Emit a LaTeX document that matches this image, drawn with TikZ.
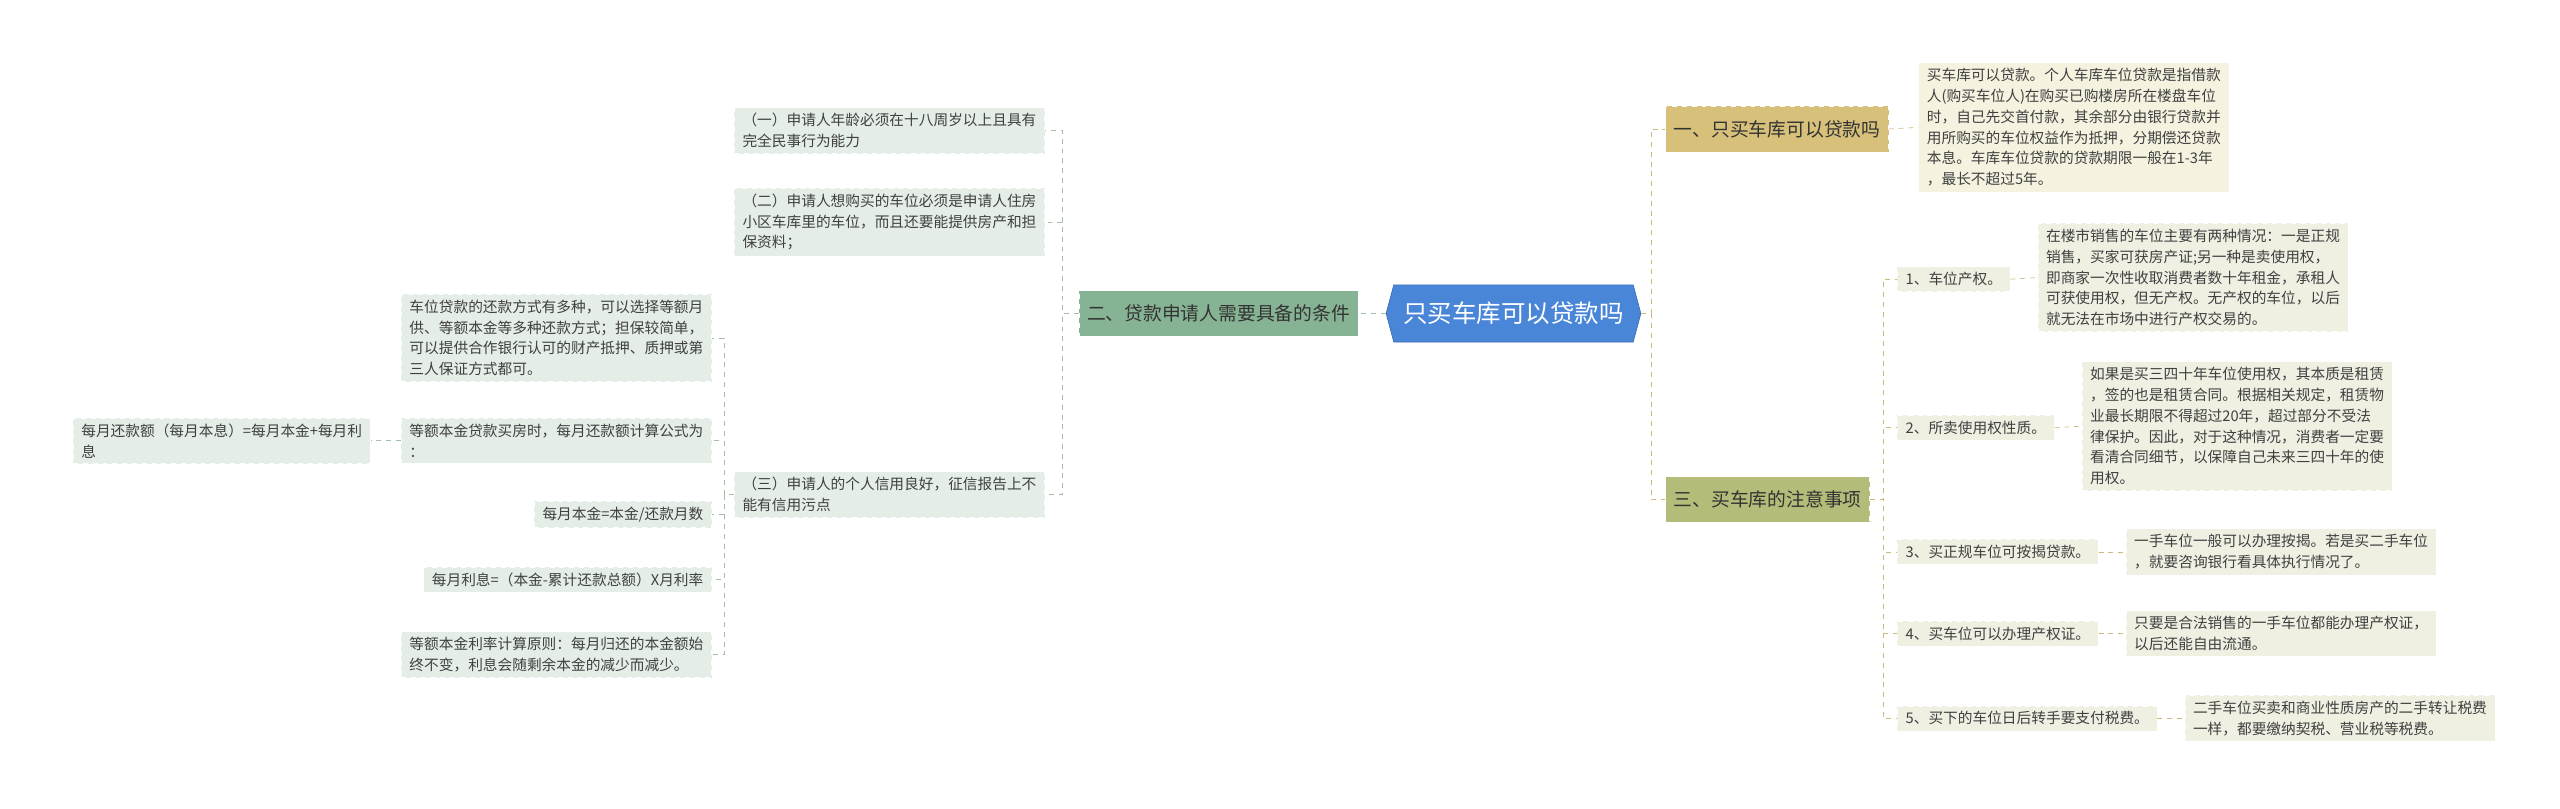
\documentclass[tikz,border=0pt]{standalone}
\usepackage{fontspec}
\setmainfont{Noto Sans CJK SC}
\usetikzlibrary{positioning,shapes.symbols}
\definecolor{rootblue}{HTML}{4A86D8}
\definecolor{gbranch}{HTML}{86B393}
\definecolor{gleaf}{HTML}{E4EDE6}
\definecolor{gline}{HTML}{A3BDA8}
\definecolor{ybranch}{HTML}{D6C07A}
\definecolor{obranch}{HTML}{B5BB78}
\definecolor{cleaf}{HTML}{F5F2E0}
\definecolor{rleaf}{HTML}{EFEFE2}
\definecolor{rline}{HTML}{C9B97A}
\tikzstyle{root}=[shape=signal,signal to=west and east,signal pointer angle=150,
fill=rootblue,draw=rootblue!80!black,text=white,font=\fontsize{15}{18}\selectfont,
minimum width=156pt,minimum height=35pt,inner sep=0pt]
\tikzstyle{branch}=[rectangle,draw=white,dashed,text=black!80,font=\fontsize{11.5}{14}\selectfont,
minimum height=28pt,inner xsep=5pt]
\tikzstyle{leaf}=[rectangle,fill=gleaf,draw=white,dashed,text=black!75,align=left,
font=\fontsize{9}{12.7}\selectfont,inner xsep=5pt,inner ysep=3.5pt]
\tikzstyle{rleafbox}=[leaf,fill=rleaf]
\tikzstyle{gconn}=[draw=gline,dashed,thin]
\tikzstyle{rconn}=[draw=rline,dashed,thin]
\begin{document}
\begin{tikzpicture}[x=1pt,y=-1pt]
            \useasboundingbox (0,0) rectangle (1568,495);

            % centre
            \node[root] (root) at (927,192) {只买车库可以贷款吗};

            % LEFT PART
            \node[branch,fill=gbranch,anchor=east] (L) at (832,192) {二、贷款申请人需要具备的条件};
            \node[leaf,anchor=east] (L1) at (640,80) {（一）申请人年龄必须在十八周岁以上且具有\\完全民事行为能力};
            \node[leaf,anchor=east] (L2) at (640,136) {（二）申请人想购买的车位必须是申请人住房\\小区车库里的车位，而且还要能提供房产和担\\保资料；};
            \node[leaf,anchor=east] (L3) at (640,303) {（三）申请人的个人信用良好，征信报告上不\\能有信用污点};

            \node[leaf,anchor=east] (D1) at (436,207) {车位贷款的还款方式有多种，可以选择等额月\\供、等额本金等多种还款方式；担保较简单，\\可以提供合作银行认可的财产抵押、质押或第\\三人保证方式都可。};
            \node[leaf,anchor=east] (D2) at (436,270) {等额本金贷款买房时，每月还款额计算公式为\\：};
            \node[leaf,anchor=east] (E1) at (227,270) {每月还款额（每月本息）=每月本金+每月利\\息};
            \node[leaf,anchor=east] (D3) at (436,315) {每月本金=本金/还款月数};
            \node[leaf,anchor=east] (D4) at (436,355) {每月利息=（本金-累计还款总额）X月利率};
            \node[leaf,anchor=east] (D5) at (436,401) {等额本金利率计算原则：每月归还的本金额始\\终不变，利息会随剩余本金的减少而减少。};

            \draw[gconn] (root.west) -- (L.east);
            \foreach \c in {L1,L2,L3}
                \draw[gconn] (L.west) -- ++(-10,0) |- (\c.east);
            \foreach \c in {D1,D2,D3,D4,D5}
                \draw[gconn] (L3.west) -- ++(-6,0) |- (\c.east);
            \draw[gconn] (D2.west) -- (E1.east);

            % RIGHT PART
            \node[branch,fill=ybranch,anchor=west] (R1) at (1020,79) {一、只买车库可以贷款吗};
            \node[leaf,fill=cleaf,anchor=west] (R1a) at (1175,78) {买车库可以贷款。个人车库车位贷款是指借款\\人(购买车位人)在购买已购楼房所在楼盘车位\\时，自己先交首付款，其余部分由银行贷款并\\用所购买的车位权益作为抵押，分期偿还贷款\\本息。车库车位贷款的贷款期限一般在1-3年\\，最长不超过5年。};
            \node[branch,fill=obranch,anchor=west] (R3) at (1020,306) {三、买车库的注意事项};

            \node[rleafbox,anchor=west] (B1) at (1162,171) {1、车位产权。};
            \node[rleafbox,anchor=west] (B1a) at (1248,170) {在楼市销售的车位主要有两种情况：一是正规\\销售，买家可获房产证;另一种是卖使用权，\\即商家一次性收取消费者数十年租金，承租人\\可获使用权，但无产权。无产权的车位，以后\\就无法在市场中进行产权交易的。};
            \node[rleafbox,anchor=west] (B2) at (1162,262) {2、所卖使用权性质。};
            \node[rleafbox,anchor=west] (B2a) at (1275,261) {如果是买三四十年车位使用权，其本质是租赁\\，签的也是租赁合同。根据相关规定，租赁物\\业最长期限不得超过20年，超过部分不受法\\律保护。因此，对于这种情况，消费者一定要\\看清合同细节，以保障自己未来三四十年的使\\用权。};
            \node[rleafbox,anchor=west] (B3) at (1162,338) {3、买正规车位可按揭贷款。};
            \node[rleafbox,anchor=west] (B3a) at (1302,338) {一手车位一般可以办理按揭。若是买二手车位\\，就要咨询银行看具体执行情况了。};
            \node[rleafbox,anchor=west] (B4) at (1162,388) {4、买车位可以办理产权证。};
            \node[rleafbox,anchor=west] (B4a) at (1302,388) {只要是合法销售的一手车位都能办理产权证，\\以后还能自由流通。};
            \node[rleafbox,anchor=west] (B5) at (1162,440) {5、买下的车位日后转手要支付税费。};
            \node[rleafbox,anchor=west] (B5a) at (1338,440) {二手车位买卖和商业性质房产的二手转让税费\\一样，都要缴纳契税、营业税等税费。};

            \foreach \c in {R1,R3}
                \draw[rconn] (root.east) -- ++(6,0) |- (\c.west);
            \draw[rconn] (R1.east) -- (R1a.west);
            \foreach \c in {B1,B2,B3,B4,B5}
                \draw[rconn] (R3.east) -- ++(8,0) |- (\c.west);
            \draw[rconn] (B1.east) -- (B1a.west);
            \draw[rconn] (B2.east) -- (B2a.west);
            \draw[rconn] (B3.east) -- (B3a.west);
            \draw[rconn] (B4.east) -- (B4a.west);
            \draw[rconn] (B5.east) -- (B5a.west);

\end{tikzpicture}
\end{document}
